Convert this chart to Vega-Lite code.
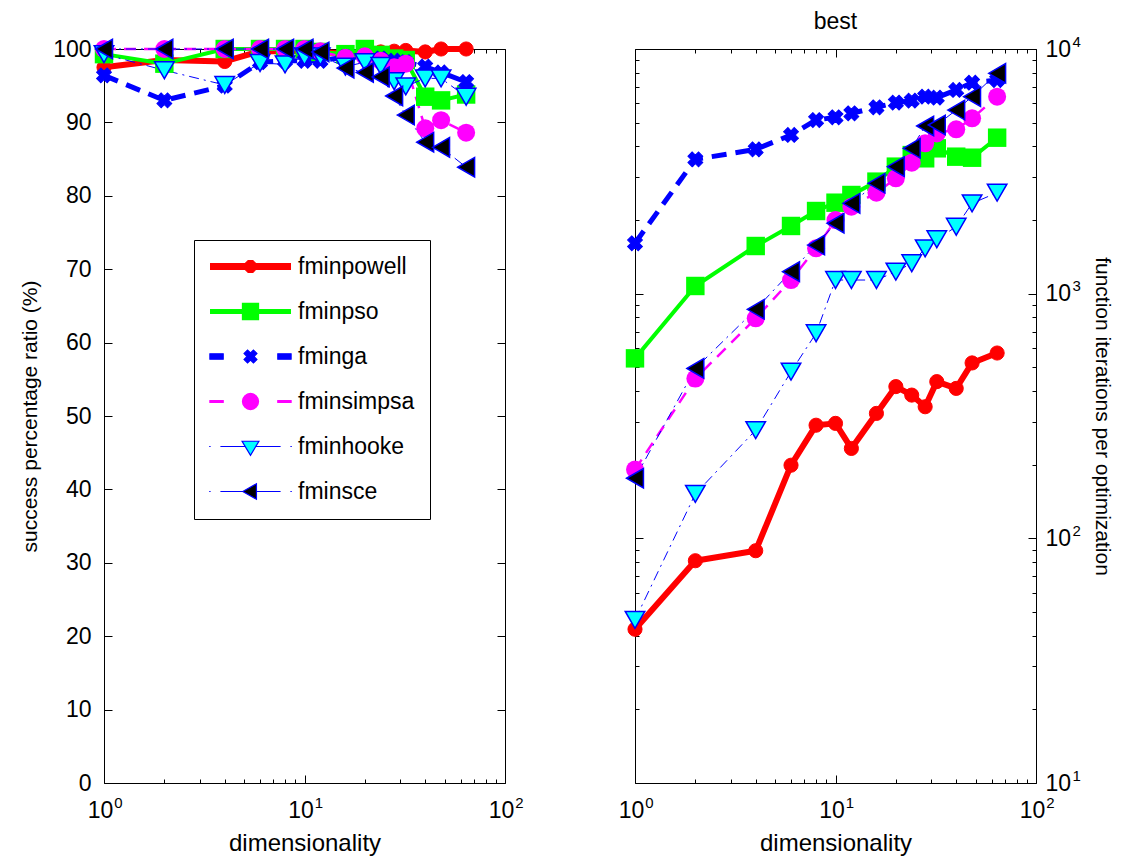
{
  "$schema": "https://vega.github.io/schema/vega-lite/v6.json",
  "background": "white",
  "padding": {"left": 19, "top": 10, "right": 5, "bottom": 0},
  "bounds": "flush",
  "spacing": 130,
  "config": {
    "font": "Liberation Sans",
    "view": {"stroke": "black", "strokeWidth": 1},
    "axis": {"labelFont": "Liberation Sans", "titleFont": "Liberation Sans", "labelColor": "black", "titleColor": "black", "tickColor": "black", "tickWidth": 1, "titleFontWeight": "normal", "labelFlush": false, "labelOverlap": false, "grid": false, "domain": false, "minExtent": 0},
    "title": {"font": "Liberation Sans", "fontWeight": "normal", "color": "black"}
  },
  "datasets": {
    "d": [
      {"method": "fminpowell", "dim": 1, "success": 97.5, "iters": 42.5},
      {"method": "fminpowell", "dim": 2, "success": 98.5, "iters": 81},
      {"method": "fminpowell", "dim": 4, "success": 98.3, "iters": 89},
      {"method": "fminpowell", "dim": 6, "success": 99.7, "iters": 199},
      {"method": "fminpowell", "dim": 8, "success": 99.7, "iters": 290},
      {"method": "fminpowell", "dim": 10, "success": 99.8, "iters": 295},
      {"method": "fminpowell", "dim": 12, "success": 99.6, "iters": 233},
      {"method": "fminpowell", "dim": 16, "success": 99.4, "iters": 324},
      {"method": "fminpowell", "dim": 20, "success": 99.5, "iters": 417},
      {"method": "fminpowell", "dim": 24, "success": 99.6, "iters": 385},
      {"method": "fminpowell", "dim": 28, "success": 99.7, "iters": 345},
      {"method": "fminpowell", "dim": 32, "success": 99.8, "iters": 437},
      {"method": "fminpowell", "dim": 40, "success": 99.6, "iters": 410},
      {"method": "fminpowell", "dim": 48, "success": 100, "iters": 521},
      {"method": "fminpowell", "dim": 64, "success": 100, "iters": 572},
      {"method": "fminpso", "dim": 1, "success": 99.3, "iters": 544},
      {"method": "fminpso", "dim": 2, "success": 98.0, "iters": 1075},
      {"method": "fminpso", "dim": 4, "success": 100, "iters": 1566},
      {"method": "fminpso", "dim": 6, "success": 100, "iters": 1891},
      {"method": "fminpso", "dim": 8, "success": 100, "iters": 2177},
      {"method": "fminpso", "dim": 10, "success": 100, "iters": 2354},
      {"method": "fminpso", "dim": 12, "success": 99.6, "iters": 2531},
      {"method": "fminpso", "dim": 16, "success": 99.3, "iters": 2870},
      {"method": "fminpso", "dim": 20, "success": 100, "iters": 3305},
      {"method": "fminpso", "dim": 24, "success": 99.2, "iters": 3685},
      {"method": "fminpso", "dim": 28, "success": 98.7, "iters": 3575},
      {"method": "fminpso", "dim": 32, "success": 98.5, "iters": 3927},
      {"method": "fminpso", "dim": 40, "success": 93.5, "iters": 3630},
      {"method": "fminpso", "dim": 48, "success": 93.0, "iters": 3595},
      {"method": "fminpso", "dim": 64, "success": 93.8, "iters": 4340},
      {"method": "fminga", "dim": 1, "success": 96.4, "iters": 1607},
      {"method": "fminga", "dim": 2, "success": 93.0, "iters": 3540},
      {"method": "fminga", "dim": 4, "success": 95.0, "iters": 3890},
      {"method": "fminga", "dim": 6, "success": 98.2, "iters": 4452},
      {"method": "fminga", "dim": 8, "success": 98.4, "iters": 5125},
      {"method": "fminga", "dim": 10, "success": 98.4, "iters": 5260},
      {"method": "fminga", "dim": 12, "success": 98.4, "iters": 5460},
      {"method": "fminga", "dim": 16, "success": 98.9, "iters": 5775},
      {"method": "fminga", "dim": 20, "success": 98.9, "iters": 6035},
      {"method": "fminga", "dim": 24, "success": 98.7, "iters": 6150},
      {"method": "fminga", "dim": 28, "success": 98.4, "iters": 6385},
      {"method": "fminga", "dim": 32, "success": 98.2, "iters": 6325},
      {"method": "fminga", "dim": 40, "success": 97.6, "iters": 6800},
      {"method": "fminga", "dim": 48, "success": 96.8, "iters": 7280},
      {"method": "fminga", "dim": 64, "success": 95.5, "iters": 7470},
      {"method": "fminsimpsa", "dim": 1, "success": 100, "iters": 191},
      {"method": "fminsimpsa", "dim": 2, "success": 100, "iters": 450},
      {"method": "fminsimpsa", "dim": 4, "success": 100, "iters": 793},
      {"method": "fminsimpsa", "dim": 6, "success": 100, "iters": 1137},
      {"method": "fminsimpsa", "dim": 8, "success": 100, "iters": 1532},
      {"method": "fminsimpsa", "dim": 10, "success": 100, "iters": 2000},
      {"method": "fminsimpsa", "dim": 12, "success": 99.7, "iters": 2267},
      {"method": "fminsimpsa", "dim": 16, "success": 98.8, "iters": 2587},
      {"method": "fminsimpsa", "dim": 20, "success": 99.0, "iters": 2961},
      {"method": "fminsimpsa", "dim": 24, "success": 98.4, "iters": 3430},
      {"method": "fminsimpsa", "dim": 28, "success": 97.5, "iters": 4117},
      {"method": "fminsimpsa", "dim": 32, "success": 98.0, "iters": 4520},
      {"method": "fminsimpsa", "dim": 40, "success": 89.2, "iters": 4694},
      {"method": "fminsimpsa", "dim": 48, "success": 90.3, "iters": 5207},
      {"method": "fminsimpsa", "dim": 64, "success": 88.6, "iters": 6385},
      {"method": "fminhooke", "dim": 1, "success": 99.3, "iters": 46.4},
      {"method": "fminhooke", "dim": 2, "success": 97.1, "iters": 152},
      {"method": "fminhooke", "dim": 4, "success": 95.1, "iters": 277},
      {"method": "fminhooke", "dim": 6, "success": 98.1, "iters": 480},
      {"method": "fminhooke", "dim": 8, "success": 97.9, "iters": 689},
      {"method": "fminhooke", "dim": 10, "success": 99.0, "iters": 1137},
      {"method": "fminhooke", "dim": 12, "success": 99.0, "iters": 1137},
      {"method": "fminhooke", "dim": 16, "success": 97.6, "iters": 1137},
      {"method": "fminhooke", "dim": 20, "success": 98.2, "iters": 1230},
      {"method": "fminhooke", "dim": 24, "success": 97.7, "iters": 1331},
      {"method": "fminhooke", "dim": 28, "success": 95.6, "iters": 1532},
      {"method": "fminhooke", "dim": 32, "success": 94.9, "iters": 1668},
      {"method": "fminhooke", "dim": 40, "success": 96.0, "iters": 1878},
      {"method": "fminhooke", "dim": 48, "success": 96.0, "iters": 2340},
      {"method": "fminhooke", "dim": 64, "success": 93.5, "iters": 2587},
      {"method": "fminsce", "dim": 1, "success": 100, "iters": 176},
      {"method": "fminsce", "dim": 2, "success": 100, "iters": 495},
      {"method": "fminsce", "dim": 4, "success": 100, "iters": 863},
      {"method": "fminsce", "dim": 6, "success": 100, "iters": 1230},
      {"method": "fminsce", "dim": 8, "success": 100, "iters": 1580},
      {"method": "fminsce", "dim": 10, "success": 100, "iters": 1940},
      {"method": "fminsce", "dim": 12, "success": 99.6, "iters": 2340},
      {"method": "fminsce", "dim": 16, "success": 97.4, "iters": 2826},
      {"method": "fminsce", "dim": 20, "success": 96.8, "iters": 3305},
      {"method": "fminsce", "dim": 24, "success": 96.2, "iters": 3927},
      {"method": "fminsce", "dim": 28, "success": 93.6, "iters": 4845},
      {"method": "fminsce", "dim": 32, "success": 91.0, "iters": 4890},
      {"method": "fminsce", "dim": 40, "success": 87.3, "iters": 5630},
      {"method": "fminsce", "dim": 48, "success": 86.6, "iters": 6385},
      {"method": "fminsce", "dim": 64, "success": 83.9, "iters": 7955}
    ]
  },
  "hconcat": [
    {
      "width": 401,
      "height": 734,
      "data": {"name": "d"},
      "resolve": {"axis": {"x": "independent", "y": "independent"}},
      "layer": [
        {
          "layer": [
            {
              "transform": [{"filter": "datum.method === 'fminpowell'"}],
              "mark": {"type": "line", "stroke": "#ff0000", "strokeWidth": 6, "strokeJoin": "round"},
              "encoding": {
                "x": {"field": "dim", "type": "quantitative", "scale": {"type": "log", "domain": [1, 100], "nice": false},
                  "axis": {"orient": "bottom", "values": [1,2,3,4,5,6,7,8,9,10,20,30,40,50,60,70,80,90,100],
                    "labelExpr": "abs(log(datum.value)/LN10-round(log(datum.value)/LN10))<0.001 ? '10' : ''",
                    "tickSize": -8,
                    "tickDash": {"condition": {"test": "abs(log(datum.value)/LN10-round(log(datum.value)/LN10))>0.001", "value": [4, 30]}, "value": [10, 0]},
                    "labelPadding": 24, "labelOffset": -4, "labelFontSize": 23, "title": "dimensionality", "titleFontSize": 24, "titlePadding": 9}},
                "y": {"field": "success", "type": "quantitative", "scale": {"domain": [0, 100], "nice": false},
                  "axis": {"orient": "left", "values": [0,10,20,30,40,50,60,70,80,90,100], "tickSize": -8, "labelPadding": 21, "labelFontSize": 23,
                    "title": "success percentage ratio (%)", "titleFontSize": 21, "titlePadding": 12}}
              }
            },
            {
              "transform": [{"filter": "datum.method === 'fminpso'"}],
              "mark": {"type": "line", "stroke": "#00ff00", "strokeWidth": 4, "strokeJoin": "round"},
              "encoding": {
                "x": {"field": "dim", "type": "quantitative", "scale": {"type": "log", "domain": [1, 100], "nice": false}},
                "y": {"field": "success", "type": "quantitative", "scale": {"domain": [0, 100], "nice": false}}
              }
            },
            {
              "transform": [{"filter": "datum.method === 'fminga'"}],
              "mark": {"type": "line", "stroke": "#0000ff", "strokeWidth": 5, "strokeDash": [15, 9]},
              "encoding": {
                "x": {"field": "dim", "type": "quantitative", "scale": {"type": "log", "domain": [1, 100], "nice": false}},
                "y": {"field": "success", "type": "quantitative", "scale": {"domain": [0, 100], "nice": false}}
              }
            },
            {
              "transform": [{"filter": "datum.method === 'fminsimpsa'"}],
              "mark": {"type": "line", "stroke": "#ff00ff", "strokeWidth": 2.5, "strokeDash": [12, 8]},
              "encoding": {
                "x": {"field": "dim", "type": "quantitative", "scale": {"type": "log", "domain": [1, 100], "nice": false}},
                "y": {"field": "success", "type": "quantitative", "scale": {"domain": [0, 100], "nice": false}}
              }
            },
            {
              "transform": [{"filter": "datum.method === 'fminhooke'"}],
              "mark": {"type": "line", "stroke": "#0000ff", "strokeWidth": 1, "strokeDash": [10, 5, 2, 5]},
              "encoding": {
                "x": {"field": "dim", "type": "quantitative", "scale": {"type": "log", "domain": [1, 100], "nice": false}},
                "y": {"field": "success", "type": "quantitative", "scale": {"domain": [0, 100], "nice": false}}
              }
            },
            {
              "transform": [{"filter": "datum.method === 'fminsce'"}],
              "mark": {"type": "line", "stroke": "#0000ff", "strokeWidth": 1, "strokeDash": [10, 5, 2, 5]},
              "encoding": {
                "x": {"field": "dim", "type": "quantitative", "scale": {"type": "log", "domain": [1, 100], "nice": false}},
                "y": {"field": "success", "type": "quantitative", "scale": {"domain": [0, 100], "nice": false}}
              }
            }
          ]
        },
        {
          "layer": [
            {
              "transform": [{"filter": "datum.method === 'fminpowell'"}],
              "mark": {"type": "point", "shape": "circle", "filled": true, "size": 200, "fill": "#ff0000", "stroke": "#ff0000", "strokeWidth": 1, "opacity": 1},
              "encoding": {
                "x": {"field": "dim", "type": "quantitative", "scale": {"type": "log", "domain": [1, 100], "nice": false},
                  "axis": {"orient": "top", "values": [1,2,3,4,5,6,7,8,9,10,20,30,40,50,60,70,80,90,100], "labels": false, "title": null, "tickSize": -8,
                    "tickDash": {"condition": {"test": "abs(log(datum.value)/LN10-round(log(datum.value)/LN10))>0.001", "value": [4, 30]}, "value": [10, 0]}}},
                "y": {"field": "success", "type": "quantitative", "scale": {"domain": [0, 100], "nice": false},
                  "axis": {"orient": "right", "values": [0,10,20,30,40,50,60,70,80,90,100], "labels": false, "title": null, "tickSize": -8}}
              }
            },
            {
              "transform": [{"filter": "datum.method === 'fminpso'"}],
              "mark": {"type": "point", "shape": "square", "filled": true, "size": 340, "fill": "#00ff00", "strokeWidth": 0, "opacity": 1},
              "encoding": {
                "x": {"field": "dim", "type": "quantitative", "scale": {"type": "log", "domain": [1, 100], "nice": false}},
                "y": {"field": "success", "type": "quantitative", "scale": {"domain": [0, 100], "nice": false}}
              }
            },
            {
              "transform": [{"filter": "datum.method === 'fminga'"}],
              "mark": {"type": "point", "shape": "cross", "angle": 45, "filled": true, "size": 225, "fill": "#0000ff", "stroke": "#0000ff", "strokeWidth": 1, "opacity": 1},
              "encoding": {
                "x": {"field": "dim", "type": "quantitative", "scale": {"type": "log", "domain": [1, 100], "nice": false}},
                "y": {"field": "success", "type": "quantitative", "scale": {"domain": [0, 100], "nice": false}}
              }
            },
            {
              "transform": [{"filter": "datum.method === 'fminsimpsa'"}],
              "mark": {"type": "point", "shape": "circle", "filled": true, "size": 324, "fill": "#ff00ff", "strokeWidth": 0, "opacity": 1},
              "encoding": {
                "x": {"field": "dim", "type": "quantitative", "scale": {"type": "log", "domain": [1, 100], "nice": false}},
                "y": {"field": "success", "type": "quantitative", "scale": {"domain": [0, 100], "nice": false}}
              }
            },
            {
              "transform": [{"filter": "datum.method === 'fminhooke'"}],
              "mark": {"type": "point", "shape": "triangle-down", "filled": true, "size": 380, "fill": "#00ffff", "stroke": "#0000ff", "strokeWidth": 1.5, "opacity": 1},
              "encoding": {
                "x": {"field": "dim", "type": "quantitative", "scale": {"type": "log", "domain": [1, 100], "nice": false}},
                "y": {"field": "success", "type": "quantitative", "scale": {"domain": [0, 100], "nice": false}}
              }
            },
            {
              "transform": [{"filter": "datum.method === 'fminsce'"}],
              "mark": {"type": "point", "shape": "triangle-left", "filled": true, "size": 380, "fill": "#000000", "stroke": "#0000ff", "strokeWidth": 1.5, "opacity": 1},
              "encoding": {
                "x": {"field": "dim", "type": "quantitative", "scale": {"type": "log", "domain": [1, 100], "nice": false}},
                "y": {"field": "success", "type": "quantitative", "scale": {"domain": [0, 100], "nice": false}}
              }
            }
          ]
        },
        {
          "transform": [{"filter": "datum.dim < 0"}],
          "mark": {"type": "point", "filled": true, "opacity": 1},
          "encoding": {
            "x": {"field": "dim", "type": "quantitative", "scale": {"type": "log", "domain": [1, 100], "nice": false},
              "axis": {"orient": "bottom", "values": [1, 10, 100], "ticks": false, "title": null,
                "labelExpr": "'' + round(log(datum.value)/LN10)", "labelFontSize": 15, "labelPadding": 12, "labelOffset": 14}},
            "y": {"field": "success", "type": "quantitative", "scale": {"domain": [0, 100], "nice": false}, "axis": null},
            "fill": {"field": "method", "type": "nominal",
              "scale": {"domain": ["fminpowell", "fminpso", "fminga", "fminsimpsa", "fminhooke", "fminsce"], "range": ["#ff0000", "#00ff00", "#0000ff", "#ff00ff", "#00ffff", "#000000"]},
              "legend": {"title": null, "orient": "none", "legendX": 90, "legendY": 191, "direction": "vertical", "padding": 15, "strokeColor": "black", "fillColor": "white", "cornerRadius": 0, "labelFont": "Liberation Sans", "labelFontSize": 23, "labelColor": "black", "symbolSize": 196, "symbolStrokeWidth": 1.2, "symbolOpacity": 1, "symbolOffset": 30, "labelOffset": 36, "rowPadding": 21}},
            "stroke": {"field": "method", "type": "nominal",
              "scale": {"domain": ["fminpowell", "fminpso", "fminga", "fminsimpsa", "fminhooke", "fminsce"], "range": ["#ff0000", "#00ff00", "#0000ff", "#ff00ff", "#0000ff", "#0000ff"]},
              "legend": {"title": null, "orient": "none", "legendX": 90, "legendY": 191, "direction": "vertical", "padding": 15, "strokeColor": "black", "fillColor": "white", "cornerRadius": 0, "labelFont": "Liberation Sans", "labelFontSize": 23, "labelColor": "black", "symbolSize": 196, "symbolStrokeWidth": 1.2, "symbolOpacity": 1, "symbolOffset": 30, "labelOffset": 36, "rowPadding": 21}},
            "shape": {"field": "method", "type": "nominal",
              "scale": {"domain": ["fminpowell", "fminpso", "fminga", "fminsimpsa", "fminhooke", "fminsce"], "range": [
                "M-5.7,-0.4L5.7,-0.4L5.7,0.4L-5.7,0.4Z M0.83,0.34L0.34,0.83L-0.34,0.83L-0.83,0.34L-0.83,-0.34L-0.34,-0.83L0.34,-0.83L0.83,-0.34Z",
                "M-5.7,-0.28L5.7,-0.28L5.7,0.28L-5.7,0.28Z M-1.15,-1.15L1.15,-1.15L1.15,1.15L-1.15,1.15Z",
                "M-5.8,-0.38L-3.9,-0.38L-3.9,0.38L-5.8,0.38Z M3.9,-0.38L5.8,-0.38L5.8,0.38L3.9,0.38Z M0.424,-0.919L0.919,-0.424L0.495,0L0.919,0.424L0.424,0.919L0,0.495L-0.424,0.919L-0.919,0.424L-0.495,0L-0.919,-0.424L-0.424,-0.919L0,-0.495Z",
                "M-5.8,-0.12L-3.9,-0.12L-3.9,0.12L-5.8,0.12Z M3.9,-0.12L5.8,-0.12L5.8,0.12L3.9,0.12Z M1.15,0L1.063,0.44L0.813,0.813L0.44,1.063L0,1.15L-0.44,1.063L-0.813,0.813L-1.063,0.44L-1.15,0L-1.063,-0.44L-0.813,-0.813L-0.44,-1.063L0,-1.15L0.44,-1.063L0.813,-0.813L1.063,-0.44Z",
                "M-5.9,0L-5.7,0M5.7,0L5.9,0M-4.3,0L-0.75,0M0.75,0L4.3,0M-1.2,-0.75L1.2,-0.75L0,1.25Z",
                "M-5.9,0L-5.7,0M5.7,0L5.9,0M-4.3,0L-1.1,0M0.85,0L4.3,0M-1.1,0L0.85,-1.1L0.85,1.1Z"
              ]},
              "legend": {"title": null, "orient": "none", "legendX": 90, "legendY": 191, "direction": "vertical", "padding": 15, "strokeColor": "black", "fillColor": "white", "cornerRadius": 0, "labelFont": "Liberation Sans", "labelFontSize": 23, "labelColor": "black", "symbolSize": 196, "symbolStrokeWidth": 1.2, "symbolOpacity": 1, "symbolOffset": 30, "labelOffset": 36, "rowPadding": 21}}
          }
        }
      ]
    },
    {
      "width": 401,
      "height": 734,
      "data": {"name": "d"},
      "title": {"text": "best", "fontSize": 23, "offset": 0, "anchor": "middle"},
      "resolve": {"axis": {"x": "independent", "y": "independent"}},
      "layer": [
        {
          "layer": [
            {
              "transform": [{"filter": "datum.method === 'fminpowell'"}],
              "mark": {"type": "line", "stroke": "#ff0000", "strokeWidth": 6, "strokeJoin": "round"},
              "encoding": {
                "x": {"field": "dim", "type": "quantitative", "scale": {"type": "log", "domain": [1, 100], "nice": false},
                  "axis": {"orient": "bottom", "values": [1,2,3,4,5,6,7,8,9,10,20,30,40,50,60,70,80,90,100],
                    "labelExpr": "abs(log(datum.value)/LN10-round(log(datum.value)/LN10))<0.001 ? '10' : ''",
                    "tickSize": -8,
                    "tickDash": {"condition": {"test": "abs(log(datum.value)/LN10-round(log(datum.value)/LN10))>0.001", "value": [4, 30]}, "value": [10, 0]},
                    "labelPadding": 24, "labelOffset": -4, "labelFontSize": 23, "title": "dimensionality", "titleFontSize": 24, "titlePadding": 9}},
                "y": {"field": "iters", "type": "quantitative", "scale": {"type": "log", "domain": [10, 10000], "nice": false},
                  "axis": {"orient": "left", "values": [10,20,30,40,50,60,70,80,90,100,200,300,400,500,600,700,800,900,1000,2000,3000,4000,5000,6000,7000,8000,9000,10000],
                    "labels": false, "title": null, "tickSize": -8,
                    "tickDash": {"condition": {"test": "abs(log(datum.value)/LN10-round(log(datum.value)/LN10))>0.001", "value": [4, 30]}, "value": [10, 0]}}}
              }
            },
            {
              "transform": [{"filter": "datum.method === 'fminpso'"}],
              "mark": {"type": "line", "stroke": "#00ff00", "strokeWidth": 4, "strokeJoin": "round"},
              "encoding": {
                "x": {"field": "dim", "type": "quantitative", "scale": {"type": "log", "domain": [1, 100], "nice": false}},
                "y": {"field": "iters", "type": "quantitative", "scale": {"type": "log", "domain": [10, 10000], "nice": false}}
              }
            },
            {
              "transform": [{"filter": "datum.method === 'fminga'"}],
              "mark": {"type": "line", "stroke": "#0000ff", "strokeWidth": 5, "strokeDash": [15, 9]},
              "encoding": {
                "x": {"field": "dim", "type": "quantitative", "scale": {"type": "log", "domain": [1, 100], "nice": false}},
                "y": {"field": "iters", "type": "quantitative", "scale": {"type": "log", "domain": [10, 10000], "nice": false}}
              }
            },
            {
              "transform": [{"filter": "datum.method === 'fminsimpsa'"}],
              "mark": {"type": "line", "stroke": "#ff00ff", "strokeWidth": 2.5, "strokeDash": [12, 8]},
              "encoding": {
                "x": {"field": "dim", "type": "quantitative", "scale": {"type": "log", "domain": [1, 100], "nice": false}},
                "y": {"field": "iters", "type": "quantitative", "scale": {"type": "log", "domain": [10, 10000], "nice": false}}
              }
            },
            {
              "transform": [{"filter": "datum.method === 'fminhooke'"}],
              "mark": {"type": "line", "stroke": "#0000ff", "strokeWidth": 1, "strokeDash": [10, 5, 2, 5]},
              "encoding": {
                "x": {"field": "dim", "type": "quantitative", "scale": {"type": "log", "domain": [1, 100], "nice": false}},
                "y": {"field": "iters", "type": "quantitative", "scale": {"type": "log", "domain": [10, 10000], "nice": false}}
              }
            },
            {
              "transform": [{"filter": "datum.method === 'fminsce'"}],
              "mark": {"type": "line", "stroke": "#0000ff", "strokeWidth": 1, "strokeDash": [10, 5, 2, 5]},
              "encoding": {
                "x": {"field": "dim", "type": "quantitative", "scale": {"type": "log", "domain": [1, 100], "nice": false}},
                "y": {"field": "iters", "type": "quantitative", "scale": {"type": "log", "domain": [10, 10000], "nice": false}}
              }
            }
          ]
        },
        {
          "layer": [
            {
              "transform": [{"filter": "datum.method === 'fminpowell'"}],
              "mark": {"type": "point", "shape": "circle", "filled": true, "size": 200, "fill": "#ff0000", "stroke": "#ff0000", "strokeWidth": 1, "opacity": 1},
              "encoding": {
                "x": {"field": "dim", "type": "quantitative", "scale": {"type": "log", "domain": [1, 100], "nice": false},
                  "axis": {"orient": "top", "values": [1,2,3,4,5,6,7,8,9,10,20,30,40,50,60,70,80,90,100], "labels": false, "title": null, "tickSize": -8,
                    "tickDash": {"condition": {"test": "abs(log(datum.value)/LN10-round(log(datum.value)/LN10))>0.001", "value": [4, 30]}, "value": [10, 0]}}},
                "y": {"field": "iters", "type": "quantitative", "scale": {"type": "log", "domain": [10, 10000], "nice": false},
                  "axis": {"orient": "right", "values": [10,20,30,40,50,60,70,80,90,100,200,300,400,500,600,700,800,900,1000,2000,3000,4000,5000,6000,7000,8000,9000,10000],
                    "labelExpr": "abs(log(datum.value)/LN10-round(log(datum.value)/LN10))<0.001 ? '10' : ''",
                    "tickSize": -8,
                    "tickDash": {"condition": {"test": "abs(log(datum.value)/LN10-round(log(datum.value)/LN10))>0.001", "value": [4, 30]}, "value": [10, 0]},
                    "labelPadding": 17, "labelFontSize": 23, "title": "function iterations per optimization", "titleFontSize": 21, "titlePadding": 21}}
              }
            },
            {
              "transform": [{"filter": "datum.method === 'fminpso'"}],
              "mark": {"type": "point", "shape": "square", "filled": true, "size": 340, "fill": "#00ff00", "strokeWidth": 0, "opacity": 1},
              "encoding": {
                "x": {"field": "dim", "type": "quantitative", "scale": {"type": "log", "domain": [1, 100], "nice": false}},
                "y": {"field": "iters", "type": "quantitative", "scale": {"type": "log", "domain": [10, 10000], "nice": false}}
              }
            },
            {
              "transform": [{"filter": "datum.method === 'fminga'"}],
              "mark": {"type": "point", "shape": "cross", "angle": 45, "filled": true, "size": 225, "fill": "#0000ff", "stroke": "#0000ff", "strokeWidth": 1, "opacity": 1},
              "encoding": {
                "x": {"field": "dim", "type": "quantitative", "scale": {"type": "log", "domain": [1, 100], "nice": false}},
                "y": {"field": "iters", "type": "quantitative", "scale": {"type": "log", "domain": [10, 10000], "nice": false}}
              }
            },
            {
              "transform": [{"filter": "datum.method === 'fminsimpsa'"}],
              "mark": {"type": "point", "shape": "circle", "filled": true, "size": 324, "fill": "#ff00ff", "strokeWidth": 0, "opacity": 1},
              "encoding": {
                "x": {"field": "dim", "type": "quantitative", "scale": {"type": "log", "domain": [1, 100], "nice": false}},
                "y": {"field": "iters", "type": "quantitative", "scale": {"type": "log", "domain": [10, 10000], "nice": false}}
              }
            },
            {
              "transform": [{"filter": "datum.method === 'fminhooke'"}],
              "mark": {"type": "point", "shape": "triangle-down", "filled": true, "size": 380, "fill": "#00ffff", "stroke": "#0000ff", "strokeWidth": 1.5, "opacity": 1},
              "encoding": {
                "x": {"field": "dim", "type": "quantitative", "scale": {"type": "log", "domain": [1, 100], "nice": false}},
                "y": {"field": "iters", "type": "quantitative", "scale": {"type": "log", "domain": [10, 10000], "nice": false}}
              }
            },
            {
              "transform": [{"filter": "datum.method === 'fminsce'"}],
              "mark": {"type": "point", "shape": "triangle-left", "filled": true, "size": 380, "fill": "#000000", "stroke": "#0000ff", "strokeWidth": 1.5, "opacity": 1},
              "encoding": {
                "x": {"field": "dim", "type": "quantitative", "scale": {"type": "log", "domain": [1, 100], "nice": false}},
                "y": {"field": "iters", "type": "quantitative", "scale": {"type": "log", "domain": [10, 10000], "nice": false}}
              }
            }
          ]
        },
        {
          "transform": [{"filter": "datum.dim < 0"}],
          "mark": {"type": "point", "filled": true, "opacity": 1},
          "encoding": {
            "x": {"field": "dim", "type": "quantitative", "scale": {"type": "log", "domain": [1, 100], "nice": false},
              "axis": {"orient": "bottom", "values": [1, 10, 100], "ticks": false, "title": null,
                "labelExpr": "'' + round(log(datum.value)/LN10)", "labelFontSize": 15, "labelPadding": 12, "labelOffset": 14}},
            "y": {"field": "iters", "type": "quantitative", "scale": {"type": "log", "domain": [10, 10000], "nice": false},
              "axis": {"orient": "right", "values": [10, 100, 1000, 10000], "ticks": false, "title": null,
                "labelExpr": "'' + round(log(datum.value)/LN10)", "labelFontSize": 15, "labelPadding": 36, "labelOffset": -8}}
          }
        }
      ]
    }
  ]
}
